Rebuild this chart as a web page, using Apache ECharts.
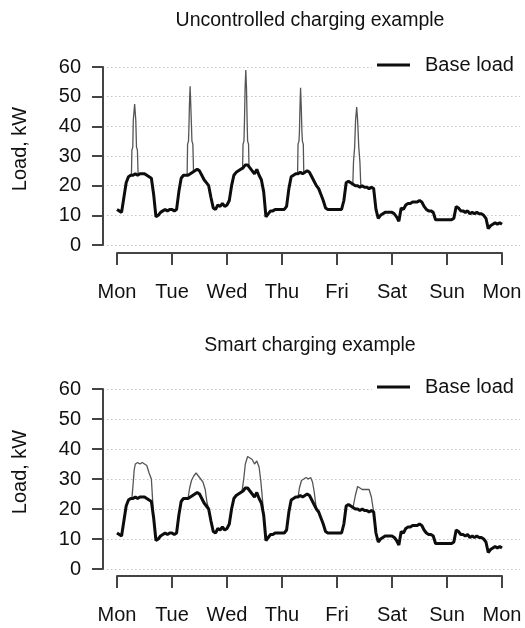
<!DOCTYPE html>
<html>
<head>
<meta charset="utf-8">
<script src="https://cdn.jsdelivr.net/npm/echarts@6/dist/echarts.min.js"></script>
<style>
html,body{margin:0;padding:0;background:#fff;}
#chart{width:525px;height:628px;}
</style>
</head>
<body>
<div id="chart"></div>
<script>
// ---- data (hours from Monday 00:00, load in kW) ----
const dayLabels = ['Mon', 'Tue', 'Wed', 'Thu', 'Fri', 'Sat', 'Sun', 'Mon'];
const titles = ['Uncontrolled charging example', 'Smart charging example'];
const yAxisName = 'Load, kW';
const legendName = 'Base load';

// hourly base load, h = 0..168
const baseLoad = [
  12, 11.5, 11, 16, 21, 23, 23.5, 23.5, 24, 23.5, 24, 24, 24, 23.5, 23, 22.5, 17, 9.5, 10, 11, 11.5, 12, 11.5, 12,
  12, 11.5, 12, 18, 22.5, 23.5, 23.5, 23.5, 24, 24.5, 25, 25.5, 25, 23.5, 22, 21, 20, 16, 12.5, 12, 13.5, 13, 14, 13,
  13.5, 15, 20, 23.5, 24.5, 25, 25.5, 26, 27, 27, 26, 25, 24, 25.5, 23.5, 22, 18, 9.5, 10.5, 11.5, 11.5, 12, 12, 12,
  12, 12, 13, 19, 23, 23.5, 24, 24, 24.5, 24, 24.5, 25, 24.5, 23, 21.5, 20, 19, 17, 15, 12.5, 12, 12, 12, 12,
  12, 12, 12, 15, 21, 21.5, 21, 20.5, 20, 20, 19.5, 20, 19.5, 19.5, 19, 19.5, 19, 12, 9, 10, 10.5, 11, 11, 11,
  11, 10.5, 9.5, 8, 12.5, 12, 13.5, 14, 14, 14.5, 14.5, 14.5, 15, 14.5, 13, 12, 11.5, 11.5, 11, 8.5, 8.5, 8.5, 8.5, 8.5,
  8.5, 8.5, 8.5, 9, 13, 12.5, 11.5, 11.5, 11, 11.5, 10.5, 11, 10.5, 11, 10.5, 10.5, 10, 9, 5.5, 6.5, 7, 7.5, 7, 7.5, 7
];

// total load (base + EV) during uncontrolled charging events: [hour, kW]
const uncontrolledMon = [[6.3, 23.5], [6.5, 32], [6.9, 33], [7.1, 42], [7.7, 47.5], [8.2, 42], [8.5, 33], [8.9, 32], [9.2, 24]];
const uncontrolledTue = [[30.6, 23.5], [30.8, 34], [31.2, 35], [31.4, 40], [31.6, 47], [31.9, 53.5], [32.2, 47], [32.5, 40], [32.7, 35], [33.1, 34], [33.4, 24.5]];
const uncontrolledWed = [[54.8, 26], [55.0, 34], [55.4, 35], [55.6, 41], [55.9, 53], [56.2, 59], [56.5, 53], [56.8, 41], [57.0, 35], [57.4, 34], [57.6, 26.5]];
const uncontrolledThu = [[78.8, 24], [79.0, 34], [79.4, 35], [79.6, 38], [79.85, 46.5], [80.1, 53], [80.4, 46.5], [80.7, 38], [80.9, 35], [81.3, 34], [81.5, 24.2]];
const uncontrolledFri = [[102.9, 20.5], [103.2, 28], [103.7, 33], [104.1, 42], [104.6, 46.5], [105.0, 42], [105.5, 33], [106.0, 28], [106.4, 19.7]];

// total load (base + EV) during smart charging events: [hour, kW]
const smartMon = [[6.5, 23.5], [7, 28], [7.5, 33], [8, 35], [9, 35.5], [10, 35], [11, 35.5], [12, 35], [13, 34.5], [14, 32], [15, 30], [16, 17]];
const smartTue = [[31, 23.5], [31.7, 27], [32.5, 29.5], [33.5, 31], [34.5, 32], [35.5, 31], [36.5, 30], [37.5, 29], [38.5, 26.5], [39.3, 22], [40, 20]];
const smartWed = [[54.5, 25.7], [55.3, 30], [56, 35], [57, 37.5], [58, 37], [59, 36.5], [60, 35], [61, 36], [62, 34], [62.8, 29], [63.5, 23], [64, 18]];
const smartThu = [[79, 24], [79.6, 27], [80.5, 29.5], [81.5, 30], [82.5, 30.5], [83.5, 30], [84.5, 30.5], [85.3, 29], [86, 26], [87, 20]];
const smartFri = [[103, 20.5], [104, 24.5], [105, 27.5], [106, 27], [107, 26.5], [108, 26.5], [109, 26.5], [110, 26.5], [111, 24], [112, 19]];

const uncontrolledEvents = [uncontrolledMon, uncontrolledTue, uncontrolledWed, uncontrolledThu, uncontrolledFri];
const smartEvents = [smartMon, smartTue, smartWed, smartThu, smartFri];

// ---- chart ----
const FONT = '"Liberation Sans", Arial, sans-serif';
const TXT = '#111';
const AX = '#444';
const hourMax = 168;
const pxPerHour = 385 / hourMax;
const dataMin = -10 / pxPerHour;
const dataMax = (520 - 117) / pxPerHour;

const panels = [
  { top: 67, height: 178, title: titles[0], titleY: 21, events: uncontrolledEvents, offX: 8 },
  { top: 389, height: 180, title: titles[1], titleY: 346, events: smartEvents, offX: 7 }
];

const grid = [], xAxis = [], yAxis = [], series = [], legend = [], graphic = [];

panels.forEach((p, i) => {
  const gData = grid.length;
  grid.push({ left: 107, right: 5, top: p.top, height: p.height });
  grid.push({ left: 117, width: 385, top: p.top, height: p.height });

  xAxis.push({ gridIndex: gData, type: 'value', min: dataMin, max: dataMax, show: false });
  yAxis.push({
    gridIndex: gData, type: 'value', min: 0, max: 60, interval: 10,
    axisLine: { show: false }, axisTick: { show: false }, axisLabel: { show: false },
    splitLine: { show: true, lineStyle: { color: '#c4c4c4', width: 1, type: [1.5, 2.5] } }
  });

  xAxis.push({
    gridIndex: gData + 1, type: 'value', min: 0, max: hourMax, interval: 24, offset: p.offX,
    axisLine: { show: true, onZero: false, lineStyle: { color: AX, width: 2 } },
    axisTick: { show: true, length: 12, lineStyle: { color: AX, width: 2 } },
    axisLabel: { formatter: v => dayLabels[Math.round(v / 24)], margin: 29, fontSize: 20, color: TXT, fontFamily: FONT },
    splitLine: { show: false }
  });
  yAxis.push({
    gridIndex: gData + 1, type: 'value', min: 0, max: 60, interval: 10, offset: 14,
    axisLine: { show: true, onZero: false, lineStyle: { color: AX, width: 2 } },
    axisTick: { show: true, length: 11, lineStyle: { color: AX, width: 2 } },
    axisLabel: { margin: 22, fontSize: 20, color: TXT, fontFamily: FONT },
    splitLine: { show: false }
  });

  p.events.forEach(seg => {
    series.push({
      type: 'line', xAxisIndex: gData, yAxisIndex: gData, data: seg,
      showSymbol: false, symbol: 'none', silent: true, z: 2,
      lineStyle: { color: '#555', width: 1.3 }
    });
  });
  series.push({
    name: legendName, type: 'line', xAxisIndex: gData, yAxisIndex: gData,
    data: baseLoad.map((v, h) => [h, v]),
    showSymbol: false, symbol: 'none', z: 3,
    lineStyle: { color: '#0d0d0d', width: 3 }, itemStyle: { color: '#0d0d0d' }
  });

  legend.push({
    data: [{ name: legendName, icon: 'rect' }],
    left: 372, top: p.top - 15, padding: [3, 12, 3, 5],
    backgroundColor: '#fff',
    itemWidth: 33, itemHeight: 3,
    textStyle: { fontSize: 20, color: TXT, fontFamily: FONT, padding: [0, 0, 0, 10] },
    selectedMode: false
  });

  graphic.push({
    type: 'text', x: 310, y: p.titleY,
    style: { text: p.title, font: '19.5px ' + FONT, fill: TXT, textAlign: 'center', textVerticalAlign: 'middle' }
  });
  graphic.push({
    type: 'text', x: 20, y: p.top + p.height / 2 - 7, rotation: Math.PI / 2,
    style: { text: yAxisName, font: '20px ' + FONT, fill: TXT, textAlign: 'center', textVerticalAlign: 'middle' }
  });
});

const chart = echarts.init(document.getElementById('chart'), null, { renderer: 'canvas' });
chart.setOption({
  animation: false,
  backgroundColor: '#fff',
  grid, xAxis, yAxis, series, legend, graphic
});
</script>
</body>
</html>
